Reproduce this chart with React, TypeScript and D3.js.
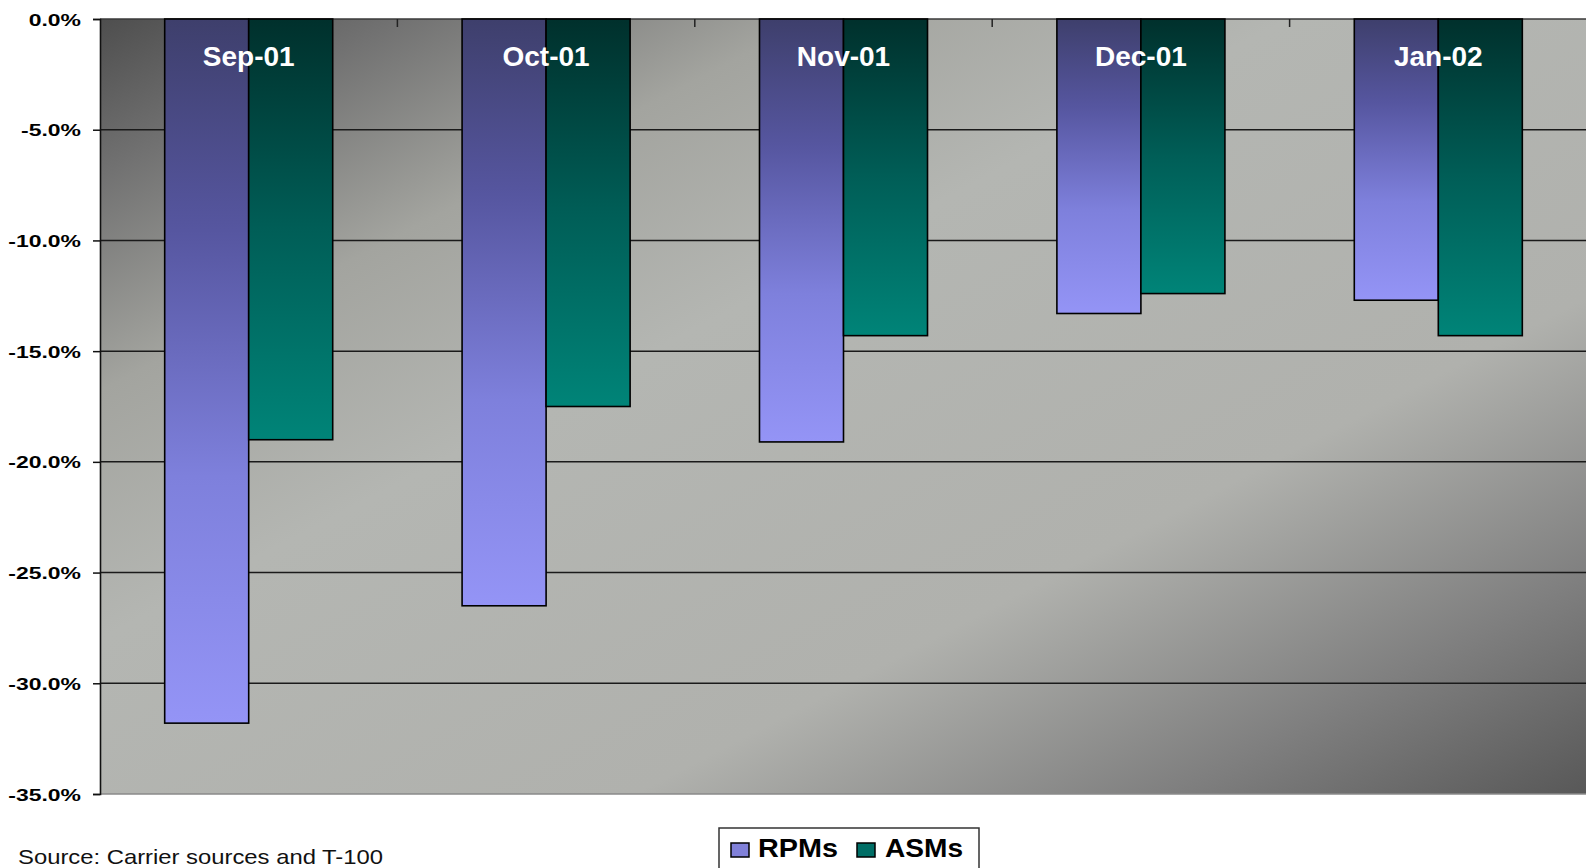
import React, { useEffect, useRef } from 'react';
import * as d3 from 'd3';

const categories = ['Sep-01', 'Oct-01', 'Nov-01', 'Dec-01', 'Jan-02'];
const seriesNames = ['RPMs', 'ASMs'];
const rpms = [-31.8, -26.5, -19.1, -13.3, -12.7];
const asms = [-19.0, -17.5, -14.3, -12.4, -14.3];
const yTicks = [0, -5, -10, -15, -20, -25, -30, -35];
const sourceNote = 'Source: Carrier sources and T-100';

const FONT = "Arial, 'Liberation Sans', sans-serif";

function App() {
  const ref = useRef<SVGSVGElement>(null);

  useEffect(() => {
    const W = 1586;
    const H = 868;
    const margin = { top: 19, right: 0, bottom: 74, left: 100 };

    const svg = d3.select(ref.current);
    svg.selectAll('*').remove(); // Clear previous render
    svg.attr('width', W).attr('height', H);

    const defs = svg.append('defs');

    // plot background: diagonal dark -> light -> dark
    const bg = defs.append('linearGradient').attr('id', 'bgGrad')
      .attr('x1', 0).attr('y1', 0).attr('x2', 1).attr('y2', 1);
    [
      [0, '#4e4e4e'], [0.1, '#717171'], [0.24, '#a3a49f'], [0.4, '#b4b6b2'],
      [0.68, '#b0b1ad'], [0.86, '#7f7f7f'], [1, '#585858'],
    ].forEach(([o, c]) => bg.append('stop').attr('offset', o as number).attr('stop-color', c as string));

    const rpmGrad = defs.append('linearGradient').attr('id', 'rpmGrad')
      .attr('x1', 0).attr('y1', 0).attr('x2', 0).attr('y2', 1);
    [[0, '#3e3f6c'], [0.3, '#5656a0'], [0.65, '#7e80dc'], [1, '#9494f6']]
      .forEach(([o, c]) => rpmGrad.append('stop').attr('offset', o as number).attr('stop-color', c as string));

    const asmGrad = defs.append('linearGradient').attr('id', 'asmGrad')
      .attr('x1', 0).attr('y1', 0).attr('x2', 0).attr('y2', 1);
    [[0, '#00302c'], [0.5, '#005e57'], [1, '#008478']]
      .forEach(([o, c]) => asmGrad.append('stop').attr('offset', o as number).attr('stop-color', c as string));

    const x0 = d3.scaleBand().domain(categories).range([margin.left, W + 1]).padding(0);
    const x1 = d3.scaleBand().domain(seriesNames).range([0, x0.bandwidth()]).paddingInner(0).paddingOuter(0.77);
    const y = d3.scaleLinear().domain([0, -35]).range([margin.top, H - margin.bottom]);

    const plotBottom = y(-35);

    svg.append('rect')
      .attr('x', margin.left).attr('y', margin.top)
      .attr('width', W - margin.left).attr('height', plotBottom - margin.top)
      .attr('fill', 'url(#bgGrad)');

    // gridlines
    svg.append('g').selectAll('line')
      .data(yTicks)
      .enter()
      .append('line')
      .attr('x1', margin.left).attr('x2', W)
      .attr('y1', d => y(d)).attr('y2', d => y(d))
      .attr('stroke', d => (d === -35 ? '#8a8a8a' : d === 0 ? '#3a3a3a' : '#1a1a1a'))
      .attr('stroke-width', 1.5);

    // category ticks hanging from the zero line
    svg.append('g').selectAll('line')
      .data(categories.slice(1))
      .enter()
      .append('line')
      .attr('x1', d => x0(d) as number).attr('x2', d => x0(d) as number)
      .attr('y1', margin.top).attr('y2', margin.top + 8)
      .attr('stroke', '#222').attr('stroke-width', 1.5);

    // bars
    const table = categories.map((c, i) => ({ cat: c, values: [rpms[i], asms[i]] }));
    const groups = svg.append('g').selectAll('g')
      .data(table)
      .enter()
      .append('g')
      .attr('transform', d => `translate(${x0(d.cat)},0)`);

    groups.selectAll('rect')
      .data(d => d.values.map((v, j) => ({ name: seriesNames[j], v })))
      .enter()
      .append('rect')
      .attr('x', d => x1(d.name) as number)
      .attr('y', y(0))
      .attr('width', x1.bandwidth())
      .attr('height', d => y(d.v) - y(0))
      .attr('fill', d => (d.name === 'RPMs' ? 'url(#rpmGrad)' : 'url(#asmGrad)'))
      .attr('stroke', '#000')
      .attr('stroke-width', 1.6);

    // category labels inside the plot
    svg.append('g').selectAll('text')
      .data(categories)
      .enter()
      .append('text')
      .attr('x', d => (x0(d) as number) + x0.bandwidth() / 2)
      .attr('y', 66)
      .attr('text-anchor', 'middle')
      .attr('fill', '#fff')
      .style('font', `bold 28px ${FONT}`)
      .text(d => d);

    // Y Axis
    const yAxis = svg.append('g')
      .attr('transform', `translate(${margin.left},0)`)
      .call(d3.axisLeft(y).tickValues(yTicks).tickSize(7).tickFormat(d => `${(d as number).toFixed(1)}%`));
    yAxis.select('.domain').attr('stroke', '#111').attr('stroke-width', 1.6);
    yAxis.selectAll('.tick line').attr('stroke', '#111').attr('stroke-width', 1.5);
    yAxis.selectAll('.tick text')
      .attr('x', -19 / 1.35)
      .attr('dy', '0.36em')
      .attr('transform', 'scale(1.35,1)')
      .attr('fill', '#000')
      .style('font', `bold 17px ${FONT}`);

    // legend (bottom edge runs off the picture, as in the original)
    const legend = svg.append('g');
    legend.append('rect')
      .attr('x', 719).attr('y', 828).attr('width', 260).attr('height', 50)
      .attr('fill', '#fff').attr('stroke', '#333').attr('stroke-width', 1.5);
    const legendItems = [
      { name: seriesNames[0], sx: 731, tx: 758, tw: 80, fill: '#8080d8' },
      { name: seriesNames[1], sx: 857, tx: 885, tw: 78, fill: '#006e66' },
    ];
    legend.selectAll('g.item')
      .data(legendItems)
      .enter()
      .append('g')
      .attr('class', 'item')
      .each(function (d) {
        const g = d3.select(this);
        g.append('rect')
          .attr('x', d.sx).attr('y', 843).attr('width', 18).attr('height', 14)
          .attr('fill', d.fill).attr('stroke', '#000').attr('stroke-width', 1.5);
        g.append('text')
          .attr('x', d.tx).attr('y', 857)
          .attr('textLength', d.tw).attr('lengthAdjust', 'spacingAndGlyphs')
          .attr('fill', '#000')
          .style('font', `bold 25px ${FONT}`)
          .text(d.name);
      });

    // source note
    svg.append('text')
      .attr('x', 18).attr('y', 864)
      .attr('textLength', 365).attr('lengthAdjust', 'spacingAndGlyphs')
      .attr('fill', '#111')
      .style('font', `21px ${FONT}`)
      .text(sourceNote);
  }, []);

  return (
    <svg
      ref={ref}
      style={{ position: 'absolute', left: 0, top: 0, display: 'block', background: '#fff' }}
    />
  );
}

export default App;
